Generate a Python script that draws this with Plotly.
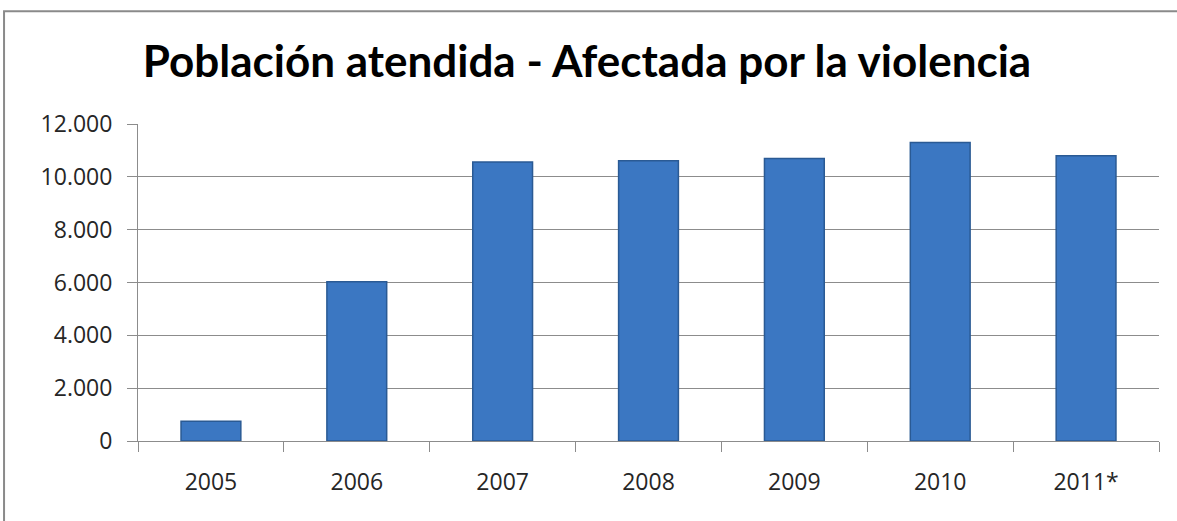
import plotly.graph_objects as go

categories = ["2005", "2006", "2007", "2008", "2009", "2010", "2011*"]
values = [750, 6030, 10560, 10610, 10690, 11300, 10800]
y_ticks = [0, 2000, 4000, 6000, 8000, 10000, 12000]

title_text = "Población atendida - Afectada por la violencia"

W, H = 1177, 521
plot_l, plot_r = 138, 1159.3
plot_t, plot_b = 123.7, 440.7

fig = go.Figure()
fig.add_trace(go.Bar(
    x=categories,
    y=values,
    width=0.41,
    marker=dict(color="#3B77C2", line=dict(color="#2A5A94", width=1.5)),
    hoverinfo="x+y",
))

pw = plot_r - plot_l
ph = plot_b - plot_t

fig.update_layout(
    width=W,
    height=H,
    margin=dict(l=plot_l, r=W - plot_r, t=plot_t, b=H - plot_b, autoexpand=False),
    paper_bgcolor="white",
    plot_bgcolor="white",
    separators=",.",
    showlegend=False,
    title=dict(
        text=title_text,
        x=587 / W, xanchor="center", xref="container",
        y=1 - 62 / H, yanchor="middle", yref="container",
        font=dict(family="Lato", size=44, color="black", weight="bold"),
    ),
    font=dict(family="Open Sans", size=23, color="#262626"),
    xaxis=dict(
        type="category",
        showgrid=False,
        showline=True, linecolor="#8C8C8C", linewidth=1,
        ticks="outside", tickson="boundaries", ticklen=10, tickcolor="#8C8C8C",
        ticklabelstandoff=20,
        tickfont=dict(family="Open Sans", size=23, color="#262626"),
        range=[-0.5, 6.5],
    ),
    yaxis=dict(
        range=[0, 12000],
        tickvals=y_ticks,
        tickformat=",d",
        showgrid=True, gridcolor="#8C8C8C", gridwidth=1,
        showline=True, linecolor="#8C8C8C", linewidth=1,
        ticks="outside", ticklen=10, tickcolor="#8C8C8C",
        ticklabelstandoff=10,
        zeroline=False,
        tickfont=dict(family="Open Sans", size=23, color="#262626"),
    ),
    shapes=[dict(
        type="rect", xref="paper", yref="paper",
        x0=(4 - plot_l) / pw, x1=1.2,
        y0=-0.5, y1=(plot_b - 11) / ph,
        line=dict(color="#8A8A8A", width=2),
        fillcolor="rgba(0,0,0,0)", layer="below",
    )],
)

fig.write_html(
    "out.html",
    config={"displayModeBar": False},
    post_script="document.body.style.margin='0';document.body.style.overflow='hidden';",
)
